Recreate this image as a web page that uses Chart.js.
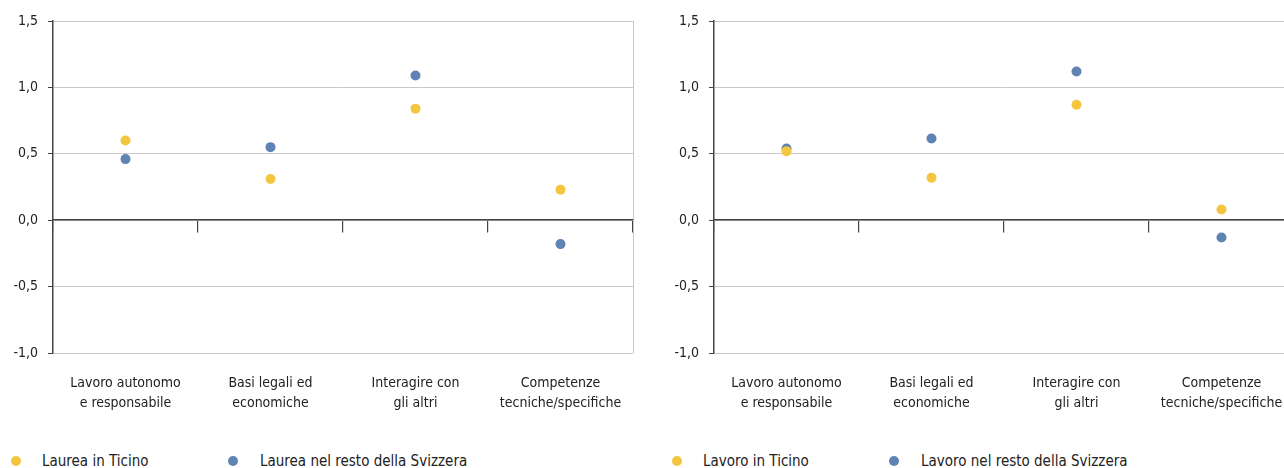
<!DOCTYPE html>
<html>
<head>
<meta charset="utf-8">
<script src="https://cdn.jsdelivr.net/npm/chart.js@4"></script>
<style>
  html, body { margin: 0; padding: 0; background: #fff; width: 1284px; height: 468px; overflow: hidden; }
  body { position: relative; font-family: 'DejaVu Sans Condensed', 'Liberation Sans Narrow', sans-serif; color: #222; }
  .box { position: absolute; top: 0; width: 640px; height: 420px; }
  .legend { position: absolute; top: 451px; height: 20px; font-size: 15px; line-height: 20px; }
  .legend span { position: absolute; white-space: nowrap; }
  .legend i { position: absolute; top: 5px; width: 10px; height: 10px; border-radius: 50%; }
</style>
</head>
<body>
<div class="box" style="left:0"><canvas id="laurea" width="640" height="420"></canvas></div>
<div class="box" style="left:661px"><canvas id="lavoro" width="640" height="420"></canvas></div>
<div class="legend" id="leg-laurea" style="left:0"></div>
<div class="legend" id="leg-lavoro" style="left:661px"></div>
<script>
const categories = [
  ['Lavoro autonomo', 'e responsabile'],
  ['Basi legali ed', 'economiche'],
  ['Interagire con', 'gli altri'],
  ['Competenze', 'tecniche/specifiche']
];
const laureaTicino = [0.60, 0.31, 0.84, 0.23];
const laureaSvizzera = [0.46, 0.55, 1.09, -0.18];
const lavoroTicino = [0.52, 0.32, 0.87, 0.08];
const lavoroSvizzera = [0.54, 0.615, 1.12, -0.13];
const laureaNames = ['Laurea in Ticino', 'Laurea nel resto della Svizzera'];
const lavoroNames = ['Lavoro in Ticino', 'Lavoro nel resto della Svizzera'];
const yTicks = [-1, -0.5, 0, 0.5, 1, 1.5];

const yellow = '#f3c63f';
const blue = '#5f84b3';
const fontFam = "'DejaVu Sans Condensed', 'Liberation Sans Narrow', sans-serif";

function makeChart(id, names, ticino, svizzera) {
    new Chart(document.getElementById(id), {
        type: 'line',
        data: {
            labels: categories,
            datasets: [
                { label: names[0], data: ticino, backgroundColor: yellow, borderColor: yellow },
                { label: names[1], data: svizzera, backgroundColor: blue, borderColor: blue }
            ]
        },
        options: {
            responsive: false,
            animation: false,
            showLine: false,
            elements: { point: { radius: 5, borderWidth: 0, hoverRadius: 5 } },
            layout: { padding: { top: 21, right: 7, left: 0, bottom: 0 } },
            plugins: { legend: { display: false }, tooltip: { enabled: false } },
            scales: {
                // axis line at zero with the small ticks between categories
                x: {
                    type: 'category',
                    position: { y: 0 },
                    offset: true,
                    ticks: { display: false },
                    grid: { offset: true, drawOnChartArea: false, tickLength: 12, color: '#444', lineWidth: 1.2 },
                    border: { display: true, color: '#444', width: 1.5, z: 2 }
                },
                // bottom labels
                x2: {
                    type: 'category',
                    position: 'bottom',
                    offset: true,
                    labels: categories,
                    ticks: { padding: 20, maxRotation: 0, autoSkip: false, color: '#222', font: { family: fontFam, size: 14, lineHeight: '20px' } },
                    grid: {
                        offset: true, drawTicks: false,
                        color: c => c.type === 'tick' ? 'rgba(0,0,0,0)' : '#c8c8c8'
                    },
                    border: { display: false },
                    afterFit: s => { s.height = 420 - 353; s.paddingLeft = 0; s.paddingRight = 0; }
                },
                y: {
                    min: -1,
                    max: 1.5,
                    afterBuildTicks: s => { s.ticks = yTicks.map(v => ({ value: v })); },
                    ticks: {
                        padding: 10,
                        color: '#222',
                        font: { family: fontFam, size: 14 },
                        callback: v => v.toFixed(1).replace('.', ',')
                    },
                    grid: { color: '#c8c8c8', tickColor: '#444', tickLength: 5, lineWidth: 1 },
                    border: { display: true, color: '#444', width: 1.5, z: 1 },
                    afterFit: s => { s.width = 53; }
                }
            }
        }
    });
}

function makeLegend(id, names) {
    const el = document.getElementById(id);
    const cols = [yellow, blue];
    const dotX = [11, 228];
    const textX = [42, 260];
    names.forEach((n, i) => {
        const dot = document.createElement('i');
        dot.style.left = dotX[i] + 'px';
        dot.style.background = cols[i];
        el.appendChild(dot);
        const t = document.createElement('span');
        t.style.left = textX[i] + 'px';
        t.textContent = n;
        el.appendChild(t);
    });
}

makeChart('laurea', laureaNames, laureaTicino, laureaSvizzera);
makeChart('lavoro', lavoroNames, lavoroTicino, lavoroSvizzera);
makeLegend('leg-laurea', laureaNames);
makeLegend('leg-lavoro', lavoroNames);
</script>
</body>
</html>
